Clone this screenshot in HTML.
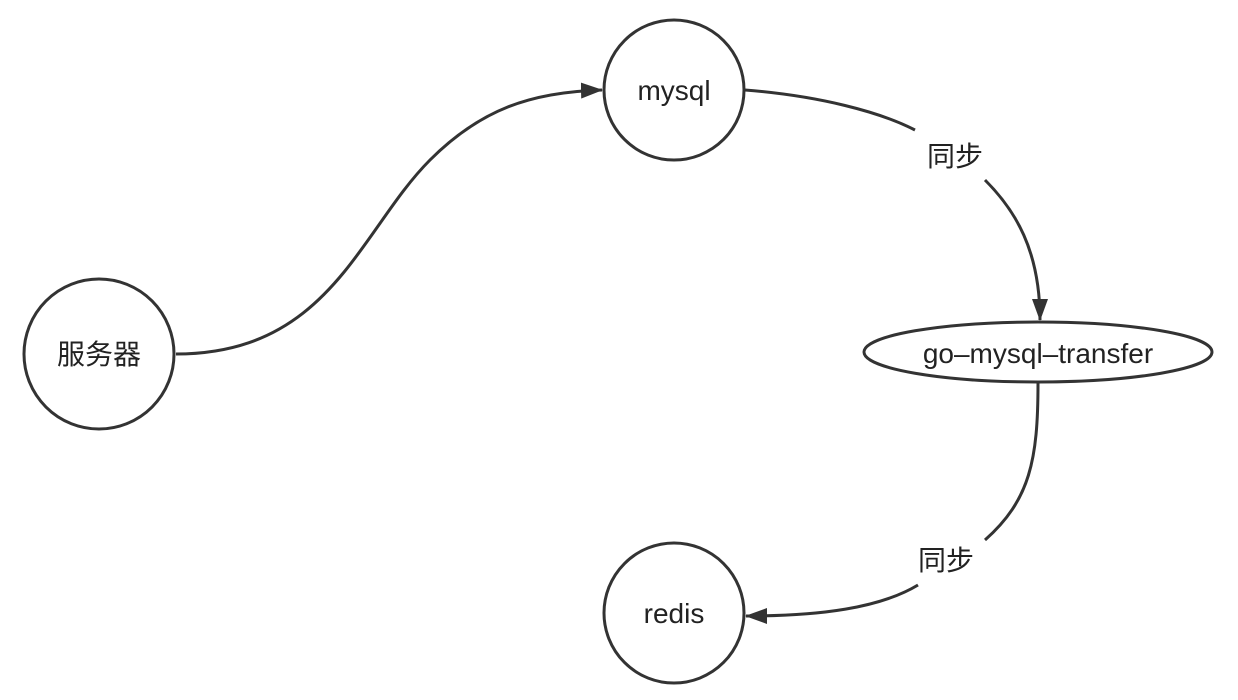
<!DOCTYPE html>
<html><head><meta charset="utf-8"><style>
html,body{margin:0;padding:0;background:#fff;width:1238px;height:700px;overflow:hidden}
svg text{font-family:"Liberation Sans","Noto Sans CJK SC",sans-serif;fill:#222}
</style></head><body>
<svg width="1238" height="700" viewBox="0 0 1238 700" xmlns="http://www.w3.org/2000/svg">
<defs><marker id="a" markerWidth="10" markerHeight="10" refX="9" refY="5" orient="auto" markerUnits="userSpaceOnUse" viewBox="0 0 10 10"><path d="M0,0 L10,5 L0,10 z" fill="#333"/></marker>
<marker id="b" markerWidth="22" markerHeight="16" refX="21" refY="8" orient="auto" markerUnits="userSpaceOnUse" viewBox="0 0 22 16"><path d="M0,0 L22,8 L0,16 z" fill="#333"/></marker></defs>
<g fill="none" stroke="#333" stroke-width="3">
<path d="M176,354 C330,354 360,230 430,160 C480,110 530,92 602,90" marker-end="url(#b)"/>
<path d="M745,90 C820,96 880,112 915,130"/>
<path d="M985,180 C1015,210 1040,250 1040,320" marker-end="url(#b)"/>
<path d="M1038,383 C1038,460 1030,500 985,540"/>
<path d="M918,585 C880,608 820,616 746,616" marker-end="url(#b)"/>
<circle cx="99" cy="354" r="75" fill="#fff"/>
<circle cx="674" cy="90" r="70" fill="#fff"/>
<circle cx="674" cy="613" r="70" fill="#fff"/>
<ellipse cx="1038" cy="352" rx="174" ry="30" fill="#fff"/>
</g>
<g font-size="28" text-anchor="middle">
<text x="99" y="364">服务器</text>
<text x="674" y="100">mysql</text>
<text x="674" y="623">redis</text>
<text x="1038" y="363">go–mysql–transfer</text>
<text x="955" y="166">同步</text>
<text x="946" y="570">同步</text>
</g>
</svg>
</body></html>
